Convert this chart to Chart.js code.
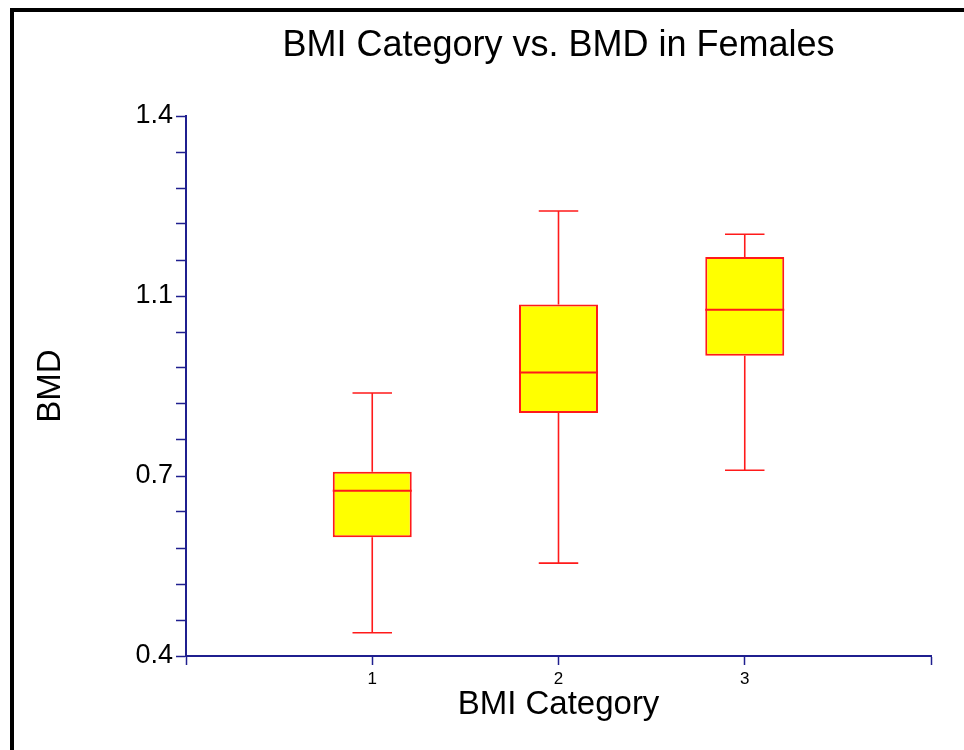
<!DOCTYPE html>
<html><head><meta charset="utf-8">
<script src="https://cdn.jsdelivr.net/npm/chart.js@4/dist/chart.umd.min.js"></script>
<style>
html,body{margin:0;padding:0;background:#fff;overflow:hidden;}
#frame{position:absolute;left:10px;top:8px;width:1000px;height:1000px;border:4px solid #000;box-sizing:border-box;}
#wrap{position:absolute;left:0;top:0;width:964px;height:750px;}
</style></head><body>
<div id="frame"></div>
<div id="wrap"><canvas id="c" width="964" height="750"></canvas></div>
<script>
// ---- data ----
const categories  = [1, 2, 3];
const whiskerLow  = [0.443, 0.572, 0.744];
const q1          = [0.620, 0.850, 0.956];
const median      = [0.706, 0.925, 1.041];
const q3          = [0.741, 1.051, 1.139];
const whiskerHigh = [0.887, 1.224, 1.181];
const xTickLabels = ['', '1', '2', '3', ''];
const yTickLabels = ['0.4', '0.7', '1.1', '1.4'];
const yMin = 0.4, yMax = 1.4;
const yMajorDivisions = 3, yMinorPerMajor = 5;

const FONT = "'Liberation Sans', Arial, Helvetica, sans-serif";
const AXIS = '#1f1f8f';

const boxPlugin = {
  id: 'boxWhiskers',
  afterDatasetsDraw(chart) {
    const meta = chart.getDatasetMeta(0);
    const ys = chart.scales.y;
    const ctx = chart.ctx;
    ctx.save();
    ctx.strokeStyle = '#ff1a1a';
    meta.data.forEach((bar, i) => {
      const x = bar.x;
      const half = bar.width / 2;
      const yLo = ys.getPixelForValue(whiskerLow[i]);
      const yHi = ys.getPixelForValue(whiskerHigh[i]);
      const yQ1 = ys.getPixelForValue(q1[i]);
      const yQ3 = ys.getPixelForValue(q3[i]);
      const yMed = ys.getPixelForValue(median[i]);
      ctx.lineWidth = 1.6;
      ctx.beginPath();
      ctx.moveTo(x, yQ3); ctx.lineTo(x, yHi);
      ctx.moveTo(x, yQ1); ctx.lineTo(x, yLo);
      ctx.moveTo(x - half / 2, yHi); ctx.lineTo(x + half / 2, yHi);
      ctx.moveTo(x - half / 2, yLo); ctx.lineTo(x + half / 2, yLo);
      ctx.stroke();
      ctx.lineWidth = 2;
      ctx.beginPath();
      ctx.moveTo(x - half, yMed); ctx.lineTo(x + half, yMed);
      ctx.stroke();
    });
    ctx.restore();
  }
};

new Chart(document.getElementById('c'), {
  type: 'bar',
  data: {
    datasets: [{
      data: categories.map((c, i) => ({ x: c, y: [q1[i], q3[i]] })),
      backgroundColor: '#ffff00',
      borderColor: '#ff1a1a',
      borderWidth: 2,
      borderSkipped: false,
      categoryPercentage: 1,
      barPercentage: 0.424
    }]
  },
  options: {
    responsive: false,
    animation: false,
    events: [],
    layout: { padding: { left: 0, right: 33, top: 0, bottom: 0 } },
    plugins: {
      legend: { display: false },
      tooltip: { enabled: false },
      title: {
        display: true,
        text: 'BMI Category vs. BMD in Females',
        color: '#000',
        fullSize: false,
        font: { family: FONT, size: 36, weight: 'normal', lineHeight: 1.2 },
        padding: { top: 24.4, bottom: 48.4 }
      }
    },
    scales: {
      x: {
        type: 'linear',
        min: 0, max: 4,
        offset: false,
        afterFit(s) { s.height = 94; },
        ticks: {
          stepSize: 1,
          autoSkip: false,
          maxRotation: 0,
          padding: 4,
          color: '#000',
          font: { family: FONT, size: 17 },
          callback: (v) => xTickLabels[v] ?? ''
        },
        grid: { display: true, offset: false, drawOnChartArea: false, drawTicks: true, tickLength: 9, color: AXIS, tickColor: AXIS, tickWidth: 1.5 },
        border: { display: true, color: AXIS, width: 2 },
        title: {
          display: true, text: 'BMI Category', color: '#000',
          font: { family: FONT, size: 33, lineHeight: 1.2 },
          padding: { top: 0, bottom: 25 }
        }
      },
      y: {
        type: 'linear',
        min: yMin, max: yMax,
        afterFit(s) { s.width = 186; },
        afterBuildTicks(s) {
          const n = yMajorDivisions * yMinorPerMajor;
          const t = [];
          for (let k = 0; k <= n; k++) t.push({ value: yMin + (yMax - yMin) * k / n });
          s.ticks = t;
        },
        ticks: {
          autoSkip: false,
          padding: 3,
          color: '#000',
          font: { family: FONT, size: 27 },
          callback: (v, idx) => (idx % yMinorPerMajor === 0 ? yTickLabels[idx / yMinorPerMajor] : '')
        },
        grid: { display: true, drawOnChartArea: false, drawTicks: true, tickLength: 10, color: AXIS, tickColor: AXIS, tickWidth: 1.5 },
        border: { display: true, color: AXIS, width: 2 },
        title: {
          display: true, text: 'BMD', color: '#000',
          font: { family: FONT, size: 33, lineHeight: 1.2 },
          padding: { top: 31, bottom: 0 }
        }
      }
    }
  },
  plugins: [boxPlugin]
});
</script>
</body></html>
